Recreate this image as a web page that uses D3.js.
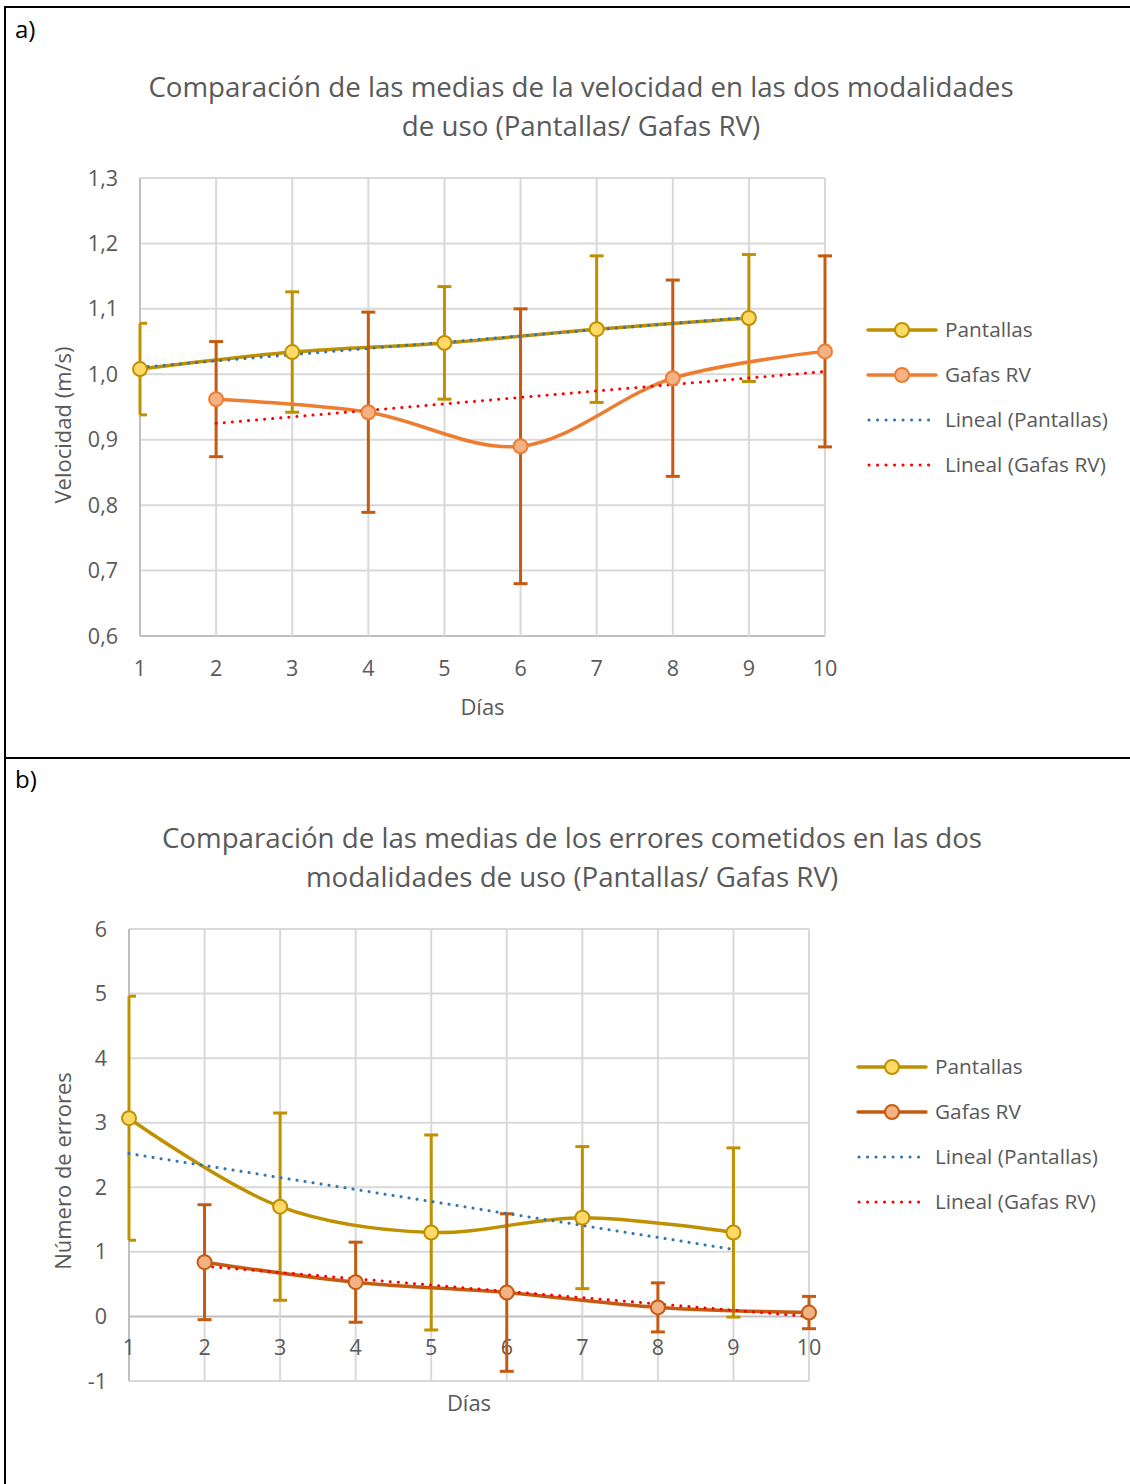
<!DOCTYPE html>
<html>
<head>
<meta charset="utf-8">
<script src="https://cdn.jsdelivr.net/npm/d3@7"></script>
<style>
  body { margin: 0; background: #fff; }
  svg { display: block; }
  text { font-family: "Open Sans", "Noto Sans", sans-serif; }
</style>
</head>
<body>
<div id="result"></div>
<script>
/* Data */
var days = [1, 2, 3, 4, 5, 6, 7, 8, 9, 10];

// a) velocidad (m/s) - Pantallas on odd days, Gafas RV on even days
var velPantallas    = [1.008, null, 1.034, null, 1.048, null, 1.069, null, 1.086, null];
var velPantallasErr = [0.070, null, 0.092, null, 0.086, null, 0.112, null, 0.097, null];
var velGafas        = [null, 0.962, null, 0.942, null, 0.890, null, 0.994, null, 1.035];
var velGafasErr     = [null, 0.088, null, 0.153, null, 0.210, null, 0.150, null, 0.146];
var velTicks = [0.6, 0.7, 0.8, 0.9, 1.0, 1.1, 1.2, 1.3];

// b) numero de errores
var errPantallas    = [3.07, null, 1.70, null, 1.30, null, 1.53, null, 1.30, null];
var errPantallasErr = [1.89, null, 1.45, null, 1.51, null, 1.10, null, 1.31, null];
var errGafas        = [null, 0.84, null, 0.53, null, 0.37, null, 0.14, null, 0.06];
var errGafasErr     = [null, 0.89, null, 0.62, null, 1.22, null, 0.38, null, 0.25];
var errTicks = [-1, 0, 1, 2, 3, 4, 5, 6];

var W = 1130, H = 1484;
var svg = d3.select("#result").append("svg").attr("width", W).attr("height", H);

var gold = "#bf9000", goldFill = "#ffd966";
var orange = "#ed7d31", rust = "#c55a11", peach = "#f4b183";
var blue = "#2e75b6", red = "#ff0000";
var txt = "#595959", grid = "#d9d9d9";

/* Frame */
svg.append("line").attr("x1", 5).attr("x2", W).attr("y1", 7).attr("y2", 7).attr("stroke", "#000").attr("stroke-width", 2);
svg.append("line").attr("x1", 5).attr("x2", W).attr("y1", 758).attr("y2", 758).attr("stroke", "#000").attr("stroke-width", 2);
svg.append("line").attr("x1", 5).attr("x2", 5).attr("y1", 6).attr("y2", H).attr("stroke", "#000").attr("stroke-width", 2);

function fmtComma(d) { return d3.format(".1f")(d).replace(".", ","); }

// least squares over defined points
function linFit(vals) {
  var pts = [];
  vals.forEach(function (v, i) { if (v != null) pts.push([days[i], v]); });
  var mx = d3.mean(pts, function (p) { return p[0]; }),
      my = d3.mean(pts, function (p) { return p[1]; });
  var num = d3.sum(pts, function (p) { return (p[0] - mx) * (p[1] - my); }),
      den = d3.sum(pts, function (p) { return (p[0] - mx) * (p[0] - mx); });
  var b = num / den, a = my - b * mx;
  var x0 = pts[0][0], x1 = pts[pts.length - 1][0];
  return [[x0, a + b * x0], [x1, a + b * x1]];
}

function panel(cfg) {
  var g = svg.append("g");
  var x = d3.scaleLinear().domain([1, 10]).range([cfg.x0, cfg.x1]);
  var y = d3.scaleLinear().domain(cfg.ydom).range([cfg.yb, cfg.yt]);

  g.append("text").attr("x", 15).attr("y", cfg.labelY).attr("font-size", 24).attr("fill", "#000").text(cfg.label);

  cfg.title.forEach(function (t, i) {
    g.append("text").attr("x", cfg.titleX).attr("y", cfg.titleY + i * 39)
      .attr("text-anchor", "middle").attr("font-size", 27.7).attr("fill", txt).text(t);
  });

  // grid
  g.selectAll(".hg").data(cfg.ticks).enter().append("line")
    .attr("x1", cfg.x0).attr("x2", cfg.x1)
    .attr("y1", function (d) { return y(d); }).attr("y2", function (d) { return y(d); })
    .attr("stroke", function (d) { return d === cfg.axisAt ? "#bfbfbf" : grid; }).attr("stroke-width", 2);
  g.selectAll(".vg").data(days).enter().append("line")
    .attr("x1", function (d) { return x(d); }).attr("x2", function (d) { return x(d); })
    .attr("y1", cfg.yt).attr("y2", cfg.yb)
    .attr("stroke", function (d) { return d === 1 ? "#bfbfbf" : grid; }).attr("stroke-width", 2);

  // tick labels
  g.selectAll(".yl").data(cfg.ticks).enter().append("text")
    .attr("x", cfg.yLabX).attr("y", function (d) { return y(d) + 7.5; })
    .attr("text-anchor", "end").attr("font-size", 21.5).attr("fill", txt)
    .text(cfg.fmt);
  g.selectAll(".xl").data(days).enter().append("text")
    .attr("x", function (d) { return x(d); }).attr("y", cfg.xLabY)
    .attr("text-anchor", "middle").attr("font-size", 21.5).attr("fill", txt)
    .text(function (d) { return d; });

  g.append("text").attr("x", (cfg.x0 + cfg.x1) / 2).attr("y", cfg.xTitleY)
    .attr("text-anchor", "middle").attr("font-size", 22).attr("fill", txt).text("Días");
  g.append("text").attr("transform", "translate(" + cfg.yTitleX + "," + cfg.yTitleY + ") rotate(-90)")
    .attr("text-anchor", "middle").attr("font-size", 22).attr("fill", txt).text(cfg.yTitle);

  var line = d3.line().curve(d3.curveCatmullRom.alpha(0.5))
    .x(function (d) { return x(d[0]); }).y(function (d) { return y(d[1]); });
  var straight = d3.line().x(function (d) { return x(d[0]); }).y(function (d) { return y(d[1]); });

  function pts(vals) {
    var out = [];
    vals.forEach(function (v, i) { if (v != null) out.push([days[i], v]); });
    return out;
  }

  cfg.series.forEach(function (s) {
    var p = pts(s.vals);
    // error bars
    p.forEach(function (d) {
      var i = days.indexOf(d[0]);
      var e = s.err[i];
      var cx = x(d[0]);
      var capL = d[0] === 1 ? cx : cx - 7;
      g.append("line").attr("x1", cx).attr("x2", cx).attr("y1", y(d[1] - e)).attr("y2", y(d[1] + e))
        .attr("stroke", s.errColor).attr("stroke-width", 3);
      [d[1] - e, d[1] + e].forEach(function (v) {
        g.append("line").attr("x1", capL).attr("x2", cx + 7).attr("y1", y(v)).attr("y2", y(v))
          .attr("stroke", s.errColor).attr("stroke-width", 3);
      });
    });
    g.append("path").attr("d", line(p)).attr("fill", "none")
      .attr("stroke", s.color).attr("stroke-width", 3.5).attr("stroke-linecap", "round");
    s.points = p;
  });

  // trend lines
  cfg.series.forEach(function (s) {
    g.append("path").attr("d", straight(linFit(s.vals))).attr("fill", "none")
      .attr("stroke", s.trend).attr("stroke-width", 3)
      .attr("stroke-dasharray", "0.1 8").attr("stroke-linecap", "round");
  });

  // markers
  cfg.series.forEach(function (s) {
    g.selectAll(null).data(s.points).enter().append("circle")
      .attr("cx", function (d) { return x(d[0]); }).attr("cy", function (d) { return y(d[1]); })
      .attr("r", 7).attr("fill", s.fill).attr("stroke", s.color).attr("stroke-width", 2);
  });

  // legend
  var items = [
    { t: "Pantallas", c: cfg.series[0].color, f: cfg.series[0].fill, m: true },
    { t: "Gafas RV", c: cfg.series[1].color, f: cfg.series[1].fill, m: true },
    { t: "Lineal (Pantallas)", c: blue, dot: true },
    { t: "Lineal (Gafas RV)", c: red, dot: true }
  ];
  items.forEach(function (it, i) {
    var ly = cfg.legY + i * 45;
    var lx = cfg.legX;
    var ln = g.append("line").attr("x1", lx).attr("x2", lx + 68).attr("y1", ly).attr("y2", ly)
      .attr("stroke", it.c).attr("stroke-width", 3.5).attr("stroke-linecap", "round");
    if (it.dot) ln.attr("stroke-width", 3).attr("stroke-dasharray", "0.1 8.4").attr("x1", lx + 1);
    if (it.m) g.append("circle").attr("cx", lx + 34).attr("cy", ly).attr("r", 7)
      .attr("fill", it.f).attr("stroke", it.c).attr("stroke-width", 2);
    g.append("text").attr("x", lx + 77).attr("y", ly + 7).attr("font-size", 20.8).attr("fill", txt).text(it.t);
  });
}

panel({
  label: "a)", labelY: 38,
  title: ["Comparación de las medias de la velocidad en las dos modalidades", "de uso (Pantallas/ Gafas RV)"],
  titleX: 581, titleY: 97,
  x0: 140, x1: 825, yt: 178, yb: 636, ydom: [0.6, 1.3], ticks: velTicks, axisAt: 0.6,
  fmt: fmtComma, yLabX: 118, xLabY: 676, xTitleY: 715, yTitleX: 71, yTitleY: 425, yTitle: "Velocidad (m/s)",
  legX: 868, legY: 330,
  series: [
    { vals: velPantallas, err: velPantallasErr, color: gold, fill: goldFill, errColor: gold, trend: blue },
    { vals: velGafas, err: velGafasErr, color: orange, fill: peach, errColor: rust, trend: red }
  ]
});

panel({
  label: "b)", labelY: 788,
  title: ["Comparación de las medias de los errores cometidos en las dos", "modalidades de uso (Pantallas/ Gafas RV)"],
  titleX: 572, titleY: 848,
  x0: 129, x1: 809, yt: 929, yb: 1381, ydom: [-1, 6], ticks: errTicks, axisAt: 0,
  fmt: function (d) { return d; }, yLabX: 107, xLabY: 1355, xTitleY: 1411, yTitleX: 71, yTitleY: 1171, yTitle: "Número de errores",
  legX: 858, legY: 1067,
  series: [
    { vals: errPantallas, err: errPantallasErr, color: gold, fill: goldFill, errColor: gold, trend: blue },
    { vals: errGafas, err: errGafasErr, color: rust, fill: peach, errColor: rust, trend: red }
  ]
});
</script>
</body>
</html>
